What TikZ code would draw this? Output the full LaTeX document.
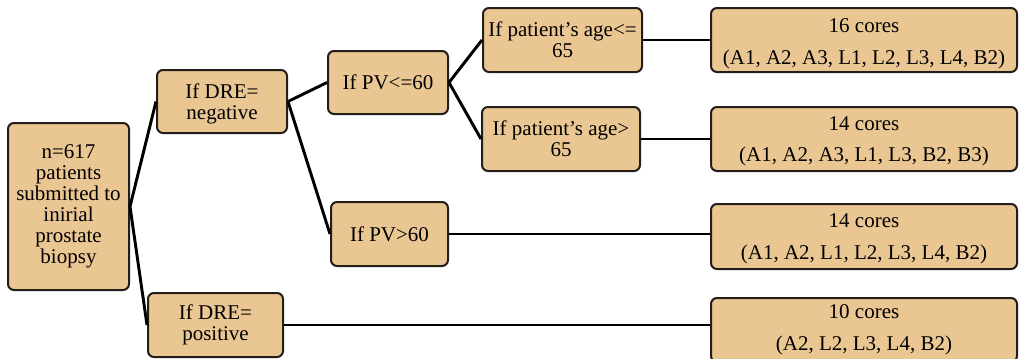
\documentclass[tikz,border=0pt]{standalone}
\usepackage{fontspec}
\setmainfont{Liberation Serif}
\definecolor{boxfill}{RGB}{234,198,146}
\definecolor{boxline}{RGB}{35,30,25}
\newcommand{\tallby}[1]{\rule{0pt}{#1}}
\begin{document}
\begin{tikzpicture}[x=0.75pt,y=-0.75pt,
  box/.style={draw=boxline,line width=1.5pt,fill=boxfill,rounded corners=4.5pt,
    align=center,inner sep=0pt,font=\fontsize{15.75}{15.75}\selectfont},
  link/.style={line width=2.2pt,black},
  thin link/.style={line width=1.6pt,black}]
\useasboundingbox (0,0) rectangle (1020,358);
\clip (0,0) rectangle (1020,358);
% nodes
\node[box,minimum width=90.75pt,minimum height=125.25pt] (root) at (68.5,206.5)
  {n=617\\patients\\submitted to\\inirial\\prostate\\biopsy};
\node[box,minimum width=97.5pt,minimum height=47.25pt] (dneg) at (222,101.5)
  {\tallby{14pt}If DRE=\\negative};
\node[box,minimum width=101.25pt,minimum height=48pt] (dpos) at (215.5,325)
  {If DRE=\\positive};
\node[box,minimum width=90pt,minimum height=47.25pt] (pv1) at (388,82.5)
  {If PV<=60};
\node[box,minimum width=87.75pt,minimum height=48pt] (pv2) at (389.5,234)
  {If PV>60};
\node[box,minimum width=119.25pt,minimum height=48pt] (a1) at (562.5,40)
  {If patient’s age<=\\65};
\node[box,minimum width=118.5pt,minimum height=48pt] (a2) at (561,139)
  {If patient’s age>\\65};
\node[box,minimum width=229.5pt,minimum height=48pt] (r1) at (864,40)
  {\tallby{16pt}16 cores\\[8pt](A1, A2, A3, L1, L2, L3, L4, B2)};
\node[box,minimum width=229.5pt,minimum height=48pt] (r2) at (864,139)
  {\tallby{14pt}14 cores\\[8pt](A1, A2, A3, L1, L3, B2, B3)};
\node[box,minimum width=229.5pt,minimum height=48.75pt] (r3) at (864,236.5)
  {\tallby{14pt}14 cores\\[8pt](A1, A2, L1, L2, L3, L4, B2)};
\node[box,minimum width=229.5pt,minimum height=48pt] (r4) at (864,330)
  {10 cores\\[8pt](A2, L2, L3, L4, B2)};
% connectors
\draw[link] (root.east) -- (dneg.west);
\draw[link] (root.east) -- (dpos.west);
\draw[link] (dneg.east) -- (pv1.west);
\draw[link] (dneg.east) -- (pv2.west);
\draw[link] (pv1.east) -- (a1.west);
\draw[link] (pv1.east) -- (a2.west);
\draw[thin link] (a1.east) -- (r1.west);
\draw[thin link] (a2.east) -- (r2.west);
\draw[link] (pv2.east) -- (pv2.east -| r3.west);
\draw[link] (dpos.east) -- (dpos.east -| r4.west);
\end{tikzpicture}
\end{document}
